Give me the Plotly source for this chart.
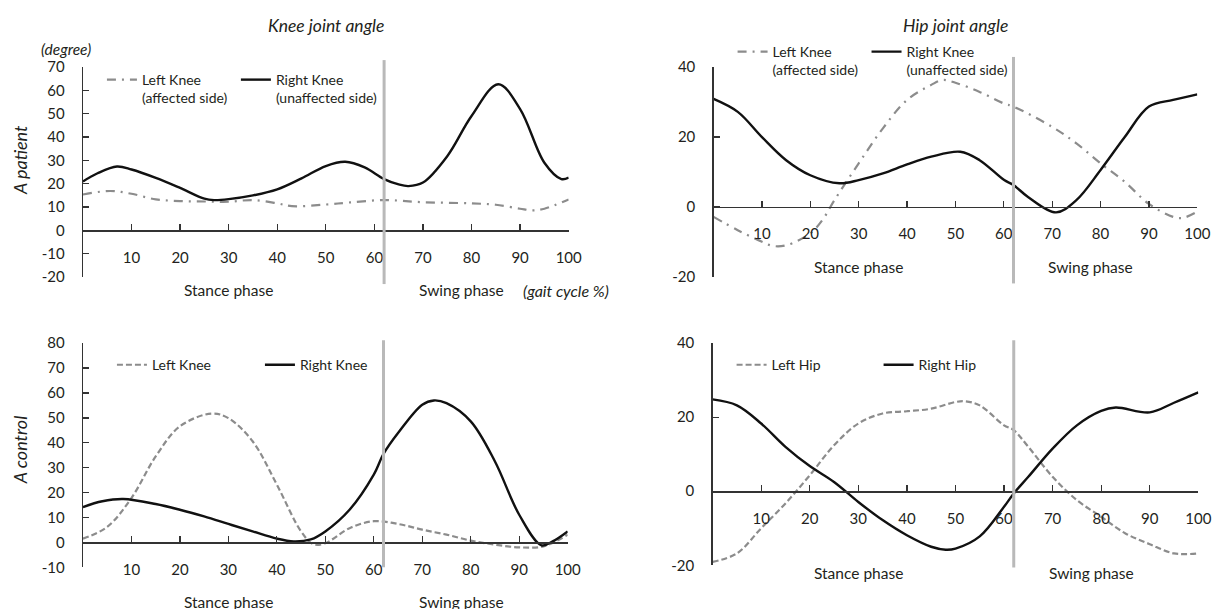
import plotly.graph_objects as go

# ---------------- data ----------------
gait_ticks = [10, 20, 30, 40, 50, 60, 70, 80, 90, 100]
phase_boundary = 62  # % gait cycle, stance -> swing

# Patient, knee
pk_right_x = [0, 3, 7, 10, 15, 20, 25, 27, 30, 35, 40, 45, 50, 54, 58, 62, 65, 67, 70, 75, 80, 85.5, 90, 95, 98.5, 100]
pk_right_y = [21, 24.5, 27.4, 26.1, 22.5, 18.2, 13.6, 13, 13.4, 15, 17.6, 22.3, 27.6, 29.4, 27, 22, 19.7, 19, 20.5, 31.8, 49, 62.6, 52, 29, 22, 22.6]
pk_left_x = [0, 5.6, 10, 15, 20, 25, 30, 35, 40, 43, 50, 55, 62, 70, 80, 85, 90, 92.6, 95, 100]
pk_left_y = [15.4, 16.9, 15.7, 13.3, 12.6, 12.4, 12.3, 13, 11.6, 10.4, 11.1, 12, 13, 12.1, 11.6, 11, 9.3, 8.6, 9.3, 13.3]

# Patient, hip
ph_right_x = [0, 5, 10, 15, 20, 26, 30, 35, 40, 45, 51, 55, 60, 62, 65, 70.8, 75, 80, 85, 90, 95, 100]
ph_right_y = [30.9, 27.2, 20, 13.4, 9.1, 6.8, 7.7, 9.6, 12.2, 14.4, 15.8, 13.4, 7.8, 6.3, 2.9, -1.5, 2, 10.6, 20, 28.7, 30.6, 32.2]
ph_left_x = [0, 5, 10, 12.3, 15, 20, 22.5, 25, 30, 35, 40, 45, 47.4, 50, 55, 60, 62, 70, 75, 80, 85, 90, 95, 97, 100]
ph_left_y = [-2.8, -6.6, -9.9, -11.1, -10.9, -7.5, -3.7, 2, 12.5, 22.5, 30.6, 34.9, 36.3, 35.5, 32.9, 29.6, 28.7, 22.9, 18.2, 12.5, 7.2, 0.9, -2.8, -3.1, -1.3]

# Control, knee
ck_right_x = [0, 4, 8.3, 15, 20, 25, 30, 35, 40, 43.5, 47, 50, 55, 60, 62, 65, 70, 72.4, 75, 80, 85, 90, 94.6, 97, 100]
ck_right_y = [14.2, 16.5, 17.4, 15.4, 13.1, 10.4, 7.4, 4.4, 1.5, 0.4, 1.2, 4.4, 13.1, 27.2, 35.5, 43.9, 55.3, 57, 55.9, 48.6, 32.5, 11.1, -1.2, 0.5, 4.4]
ck_left_x = [0, 5, 10, 15, 20, 26.5, 30, 35, 40, 45, 47.5, 50, 55, 60, 65, 70, 75, 80, 85, 90, 95, 100]
ck_left_y = [1.5, 6.2, 17.8, 34.5, 46.6, 51.7, 49.9, 40.6, 23.2, 4.4, -0.7, -0.3, 5.7, 8.5, 7.4, 5.1, 3.1, 0.7, -0.9, -2, -1.6, 3.1]

# Control, hip
ch_right_x = [0, 5, 10, 15, 20, 25, 30, 35, 40, 45, 48, 50, 55, 60, 62, 65, 70, 75, 80, 83, 90, 95, 100]
ch_right_y = [24.8, 23.2, 18.3, 12, 6.8, 2.5, -2.9, -7.8, -11.9, -15, -15.8, -15.5, -12.2, -4.2, -0.6, 3.9, 11.5, 17.8, 21.7, 22.6, 21.3, 23.9, 26.7]
ch_left_x = [0, 5, 10, 15, 20, 25, 30, 35, 40, 45, 50, 52, 55, 60, 62, 65, 70, 75, 80, 85, 90, 95, 100]
ch_left_y = [-19.1, -16.8, -10, -3.3, 4.3, 12.4, 18.3, 21, 21.6, 22.3, 24.1, 24.3, 23.2, 17.8, 16.5, 12, 3.9, -2.4, -6.9, -11.4, -14.3, -16.8, -16.8]

# y tick values per panel
knee_patient_ticks = [-20, -10, 0, 10, 20, 30, 40, 50, 60, 70]
knee_control_ticks = [-10, 0, 10, 20, 30, 40, 50, 60, 70, 80]
hip_ticks = [-20, 0, 20, 40]

# ---------------- page geometry ----------------
WF, HF = 1230, 618          # figure size
SX, SY, OY = 0.990, 0.9704, 10.0   # observed framing of the photographed page


def tx(p):
    """target picture x (px) -> paper fraction"""
    return (p / SX) / WF


def ty(p):
    """target picture y (px from top) -> paper fraction"""
    return 1 - ((p - OY) / SY) / HF


# ---------------- styling ----------------
FONT = "Lato"
TXT = "#231f20"
AX = "#333333"
GRAY = "#8c8c8c"
BLACK = "#111111"
DASHDOT = "9px,6px,2px,6px"
DASH = "6px,3px"
NB = "&nbsp;"

panels = [
    dict(n="", xdom=(83, 569), ydom=(67, 277), yticks=knee_patient_ticks, vl=(-0.033, 1.033),
         leg=(102, 64), ew=0,
         series=[("Left Knee<br>(affected side)" + NB, pk_left_x, pk_left_y, GRAY, DASHDOT, 2.2),
                 ("Right Knee<br>(unaffected side)", pk_right_x, pk_right_y, BLACK, "solid", 2.4)],
         phase_y=290),
    dict(n="2", xdom=(714, 1198), ydom=(67, 277), yticks=hip_ticks, vl=(-0.03, 1.048),
         leg=(733, 36), ew=0,
         series=[("Left Knee<br>(affected side)" + NB, ph_left_x, ph_left_y, GRAY, DASHDOT, 2.2),
                 ("Right Knee<br>(unaffected side)", ph_right_x, ph_right_y, BLACK, "solid", 2.4)],
         phase_y=267),
    dict(n="3", xdom=(83, 568), ydom=(343, 567), yticks=knee_control_ticks, vl=(0, 1.013),
         leg=(112, 349), ew=103,
         series=[("Left Knee", ck_left_x, ck_left_y, GRAY, DASH, 2.2),
                 ("Right Knee", ck_right_x, ck_right_y, BLACK, "solid", 2.4)],
         phase_y=602),
    dict(n="4", xdom=(713, 1199), ydom=(343, 565), yticks=hip_ticks, vl=(-0.01, 1.013),
         leg=(732, 349), ew=102,
         series=[("Left Hip", ch_left_x, ch_left_y, GRAY, DASH, 2.2),
                 ("Right Hip", ch_right_x, ch_right_y, BLACK, "solid", 2.4)],
         phase_y=573),
]

fig = go.Figure()
layout = dict(
    width=WF, height=HF,
    margin=dict(l=0, r=0, t=0, b=0),
    paper_bgcolor="white", plot_bgcolor="white",
    font=dict(family=FONT, size=14, color=TXT),
    showlegend=True,
)
annotations = []
shapes = []

for p in panels:
    n = p["n"]
    xid, yid = "x" + n, "y" + n
    legid = "legend" + n
    y0, y1 = ty(p["ydom"][1]), ty(p["ydom"][0])
    yt = p["yticks"]
    ymin, ymax = min(yt), max(yt)
    zero_pos = y0 + (0 - ymin) / (ymax - ymin) * (y1 - y0)

    for name, xs, ys, col, dash, w in p["series"]:
        fig.add_trace(go.Scatter(
            x=xs, y=ys, mode="lines", name=name,
            line=dict(color=col, width=w, dash=dash, shape="spline", smoothing=1.0),
            xaxis=xid, yaxis=yid, legend=legid, hoverinfo="skip",
        ))

    layout["xaxis" + n] = dict(
        domain=[tx(p["xdom"][0]), tx(p["xdom"][1])],
        range=[0, 100], tickvals=gait_ticks,
        ticks="inside", ticklen=6, tickwidth=1.3, tickcolor=AX,
        showline=True, linecolor=AX, linewidth=1.3,
        showgrid=False, zeroline=False,
        anchor="free", position=zero_pos,
        ticklabelstandoff=13,
        tickfont=dict(family=FONT, size=15, color=TXT),
        fixedrange=True,
    )
    layout["yaxis" + n] = dict(
        domain=[y0, y1], range=[ymin, ymax],
        tickvals=yt, ticktext=[str(v) for v in yt],
        ticks="inside", ticklen=6, tickwidth=1.3, tickcolor=AX,
        showline=True, linecolor=AX, linewidth=1.3,
        showgrid=False, zeroline=False, anchor=xid,
        ticklabelstandoff=14,
        tickfont=dict(family=FONT, size=15, color=TXT),
        fixedrange=True,
    )
    leg = dict(
        x=tx(p["leg"][0]), y=ty(p["leg"][1]),
        xanchor="left", yanchor="top",
        orientation="h", valign="top",
        bgcolor="rgba(0,0,0,0)", borderwidth=0,
        font=dict(family=FONT, size=14, color=TXT),
        itemwidth=30, traceorder="normal", itemclick=False, itemdoubleclick=False,
    )
    if p["ew"]:
        leg.update(entrywidth=p["ew"], entrywidthmode="pixels")
    layout[legid] = leg

    shapes.append(dict(
        type="line", xref=xid, yref=yid + " domain",
        x0=phase_boundary, x1=phase_boundary, y0=p["vl"][0], y1=p["vl"][1],
        line=dict(color="#b9b9b9", width=3), layer="above",
    ))

    for label, xv in (("Stance phase", 30), ("Swing phase", 78)):
        annotations.append(dict(
            text=label, xref=xid, x=xv, yref="paper", y=ty(p["phase_y"]),
            showarrow=False, xanchor="center", yanchor="middle",
            font=dict(family=FONT, size=15.5, color=TXT),
        ))


def note(text, xpx, ypx, size, angle=0):
    return dict(text=text, xref="paper", x=tx(xpx), yref="paper", y=ty(ypx),
                xanchor="center", yanchor="middle", textangle=angle,
                showarrow=False, font=dict(family=FONT, size=size, color=TXT))


# titles and side labels
annotations += [
    note("<i>Knee joint angle</i>", 326, 25, 17.5),
    note("<i>Hip joint angle</i>", 956, 25, 17.5),
    note("<i>(degree)</i>", 66, 49, 15.5),
    note("<i>A patient</i>", 20, 160, 18, -90),
    note("<i>A control</i>", 20, 450, 18, -90),
    note("<i>(gait cycle %)</i>", 566, 290, 16),
]

layout["annotations"] = annotations
layout["shapes"] = shapes
fig.update_layout(**layout)

fig.write_html(
    "out.html",
    config={"displayModeBar": False, "staticPlot": True},
    post_script=("document.documentElement.style.margin='0';document.documentElement.style.padding='0';"
                 "document.body.style.margin='0';document.body.style.padding='0';"
                 "document.documentElement.style.overflow='hidden';document.body.style.overflow='hidden';"),
)
